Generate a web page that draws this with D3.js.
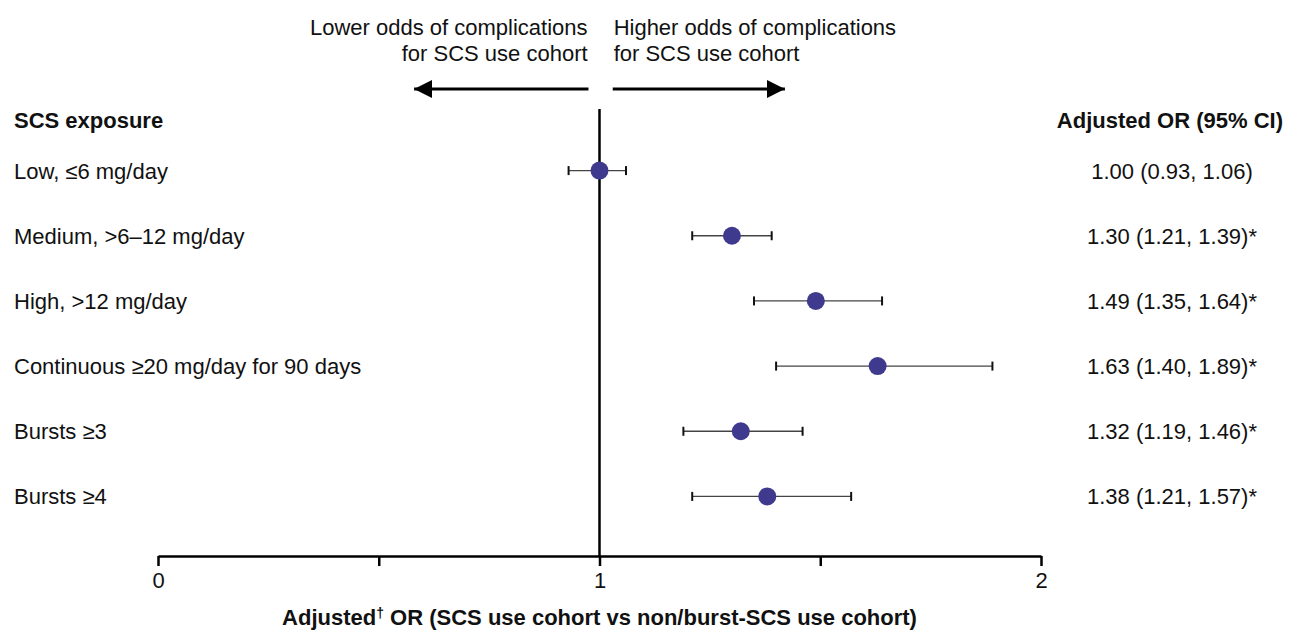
<!DOCTYPE html>
<html>
<head>
<meta charset="utf-8">
<script src="https://cdn.jsdelivr.net/npm/d3@7"></script>
<style>
  body { margin: 0; background: #fff; }
  svg { display: block; font-family: "Liberation Sans", Arial, sans-serif; }
</style>
</head>
<body>
<svg id="chart" width="1290" height="630"></svg>
<script>
const categories = [
  "Low, \u22646 mg/day",
  "Medium, >6\u201312 mg/day",
  "High, >12 mg/day",
  "Continuous \u226520 mg/day for 90 days",
  "Bursts \u22653",
  "Bursts \u22654"
];
const orValues = [1.00, 1.30, 1.49, 1.63, 1.32, 1.38];
const ciLower  = [0.93, 1.21, 1.35, 1.40, 1.19, 1.21];
const ciUpper  = [1.06, 1.39, 1.64, 1.89, 1.46, 1.57];
const significant = [false, true, true, true, true, true];
const tickValues = [0, 0.5, 1, 1.5, 2];
const tickLabels = ["0", "", "1", "", "2"];

const FS = 22;
const svg = d3.select("#chart");
const x = d3.scaleLinear().domain([0, 2]).range([158, 1041]);
const y = d3.scaleBand().domain(categories).range([138, 529]).paddingInner(0).paddingOuter(0);
const yc = d => y(d) + y.bandwidth() / 2;
const axisY = 556;

// Axis
const axis = d3.axisBottom(x).tickValues(tickValues)
  .tickFormat((d, i) => tickLabels[i]).tickSize(10).tickSizeOuter(0).tickPadding(6);
const gAxis = svg.append("g").attr("transform", `translate(0,${axisY})`).call(axis);
gAxis.select(".domain").attr("stroke", "#000").attr("stroke-width", 2.5);
gAxis.selectAll(".tick line").attr("stroke", "#000").attr("stroke-width", 2.5);
gAxis.selectAll(".tick text").attr("font-size", FS).attr("fill", "#111")
  .attr("font-family", "Liberation Sans, Arial, sans-serif");

// reference line at 1
svg.append("line").attr("x1", x(1)).attr("x2", x(1)).attr("y1", 109).attr("y2", axisY)
  .attr("stroke", "#000").attr("stroke-width", 2.5);

// Arrows
const defs = svg.append("defs");
defs.append("marker").attr("id", "arrowhead").attr("viewBox", "0 0 10 10")
  .attr("refX", 10).attr("refY", 5).attr("markerWidth", 18).attr("markerHeight", 18)
  .attr("markerUnits", "userSpaceOnUse").attr("orient", "auto")
  .append("path").attr("d", "M0,0 L10,5 L0,10 Z").attr("fill", "#000");
svg.append("line").attr("x1", x(0.975)).attr("x2", x(0.58)).attr("y1", 89).attr("y2", 89)
  .attr("stroke", "#000").attr("stroke-width", 3).attr("marker-end", "url(#arrowhead)");
svg.append("line").attr("x1", x(1.03)).attr("x2", x(1.42)).attr("y1", 89).attr("y2", 89)
  .attr("stroke", "#000").attr("stroke-width", 3).attr("marker-end", "url(#arrowhead)");

const topText = svg.append("g").attr("font-size", FS).attr("fill", "#111");
topText.append("text").attr("x", x(0.973)).attr("y", 35).attr("text-anchor", "end").text("Lower odds of complications");
topText.append("text").attr("x", x(0.973)).attr("y", 61).attr("text-anchor", "end").text("for SCS use cohort");
topText.append("text").attr("x", x(1.032)).attr("y", 35).attr("text-anchor", "start").text("Higher odds of complications");
topText.append("text").attr("x", x(1.032)).attr("y", 61).attr("text-anchor", "start").text("for SCS use cohort");

// Headers
svg.append("text").attr("x", 14).attr("y", 128).attr("font-size", FS).attr("font-weight", "bold")
  .attr("fill", "#111").text("SCS exposure");
svg.append("text").attr("x", 1283).attr("y", 128).attr("font-size", FS).attr("font-weight", "bold")
  .attr("text-anchor", "end").attr("fill", "#111").text("Adjusted OR (95% CI)");

// Row labels
svg.append("g").selectAll("text").data(categories).join("text")
  .attr("x", 14).attr("y", d => yc(d) + 8).attr("font-size", FS).attr("fill", "#111").text(d => d);

// Value labels
const fmt = d3.format(".2f");
svg.append("g").selectAll("text").data(categories).join("text")
  .attr("x", 1172).attr("y", d => yc(d) + 8).attr("font-size", FS).attr("fill", "#111")
  .attr("text-anchor", "middle")
  .text((d, i) => `${fmt(orValues[i])} (${fmt(ciLower[i])}, ${fmt(ciUpper[i])})${significant[i] ? "*" : ""}`);

// CI lines
const rows = svg.append("g").selectAll("g").data(categories).join("g");
rows.append("line").attr("x1", (d, i) => x(ciLower[i])).attr("x2", (d, i) => x(ciUpper[i]))
  .attr("y1", d => yc(d)).attr("y2", d => yc(d)).attr("stroke", "#444").attr("stroke-width", 1.3);
rows.append("line").attr("x1", (d, i) => x(ciLower[i])).attr("x2", (d, i) => x(ciLower[i]))
  .attr("y1", d => yc(d) - 4.5).attr("y2", d => yc(d) + 4.5).attr("stroke", "#111").attr("stroke-width", 2);
rows.append("line").attr("x1", (d, i) => x(ciUpper[i])).attr("x2", (d, i) => x(ciUpper[i]))
  .attr("y1", d => yc(d) - 4.5).attr("y2", d => yc(d) + 4.5).attr("stroke", "#111").attr("stroke-width", 2);
rows.append("circle").attr("cx", (d, i) => x(orValues[i])).attr("cy", d => yc(d)).attr("r", 9)
  .attr("fill", "#3f3a8e");

// X title
const title = svg.append("text").attr("x", x(1)).attr("y", 625).attr("font-size", FS)
  .attr("font-weight", "bold").attr("text-anchor", "middle").attr("fill", "#111");
title.append("tspan").text("Adjusted");
title.append("tspan").attr("font-size", 14).attr("dy", -7).text("\u2020");
title.append("tspan").attr("dy", 7).text(" OR (SCS use cohort vs non/burst-SCS use cohort)");
</script>
</body>
</html>
